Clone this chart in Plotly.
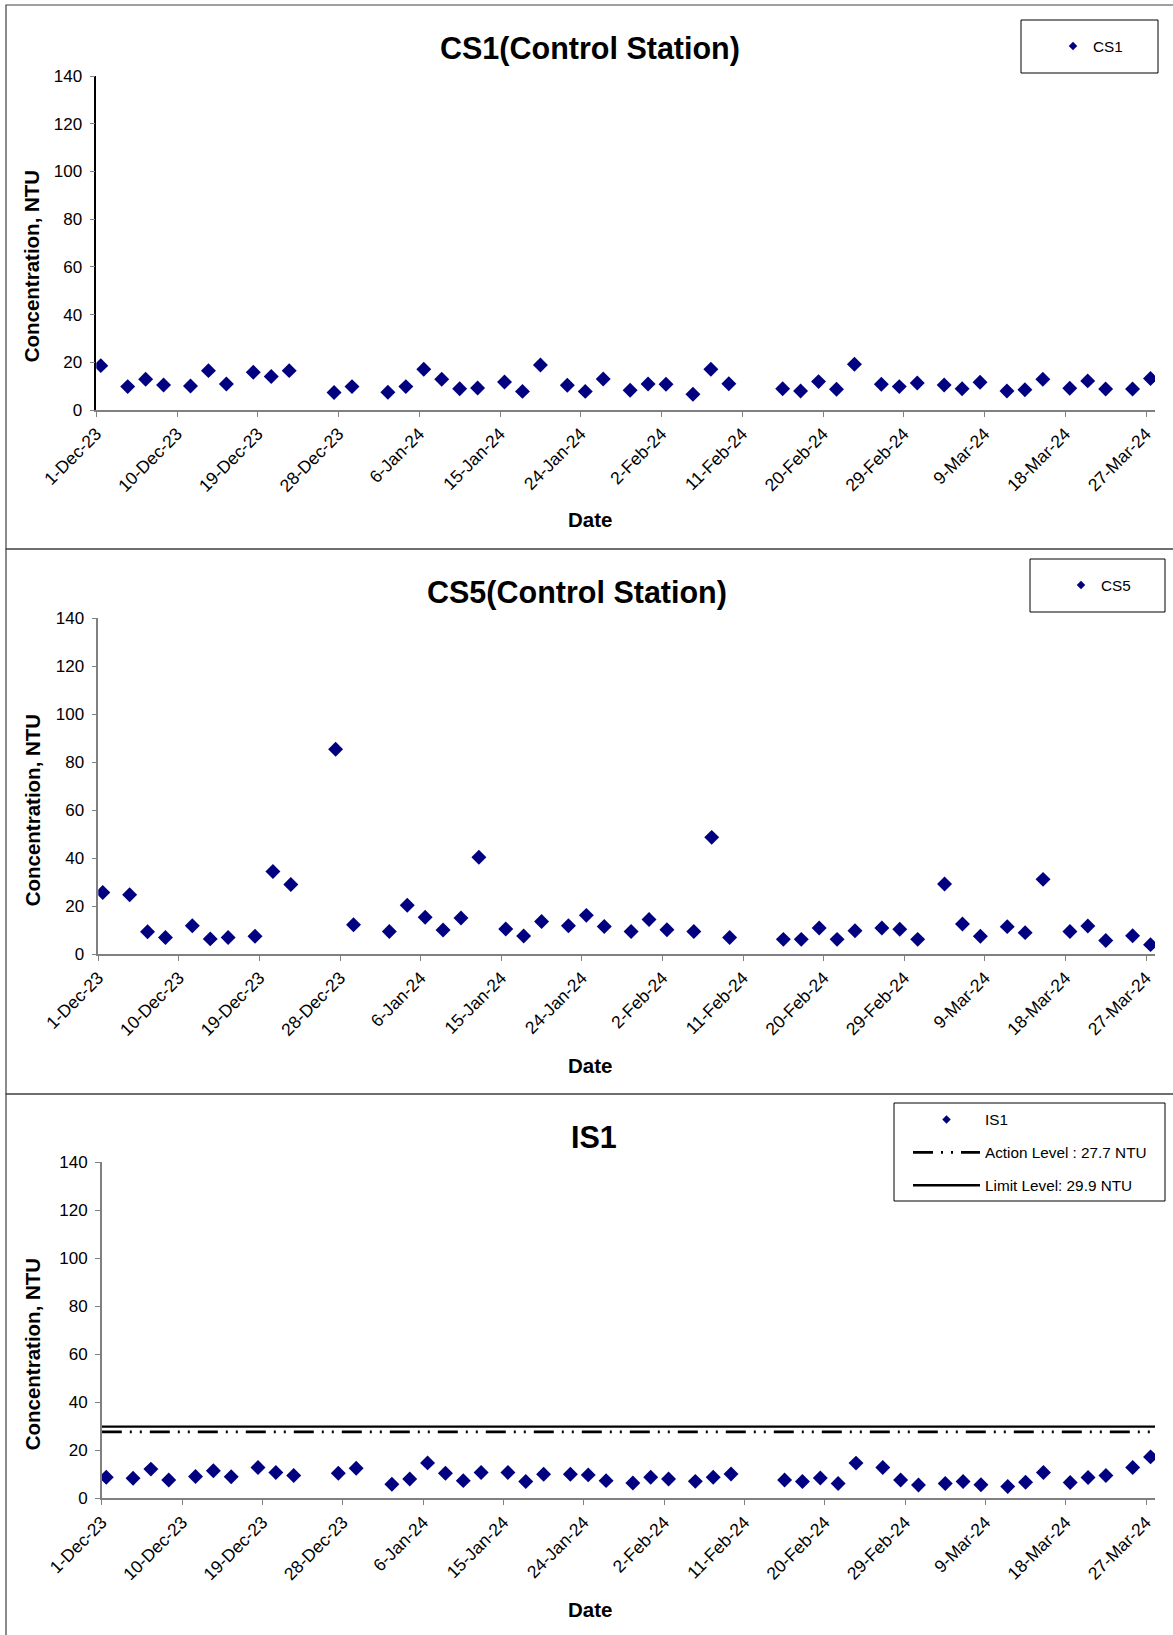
import pandas as pd
import plotly.graph_objects as go

# ---------------- data ----------------
sample_dates = [
    "2023-12-01", "2023-12-04", "2023-12-06", "2023-12-08", "2023-12-11", "2023-12-13",
    "2023-12-15", "2023-12-18", "2023-12-20", "2023-12-22", "2023-12-27", "2023-12-29",
    "2024-01-02", "2024-01-04", "2024-01-06", "2024-01-08", "2024-01-10", "2024-01-12",
    "2024-01-15", "2024-01-17", "2024-01-19", "2024-01-22", "2024-01-24", "2024-01-26",
    "2024-01-29", "2024-01-31", "2024-02-02", "2024-02-05", "2024-02-07", "2024-02-09",
    "2024-02-15", "2024-02-17", "2024-02-19", "2024-02-21", "2024-02-23", "2024-02-26",
    "2024-02-28", "2024-03-01", "2024-03-04", "2024-03-06", "2024-03-08", "2024-03-11",
    "2024-03-13", "2024-03-15", "2024-03-18", "2024-03-20", "2024-03-22", "2024-03-25",
    "2024-03-27",
]
cs1_ntu = [18.6, 9.8, 12.9, 10.5, 10.1, 16.5, 10.9, 15.8, 14.0, 16.5, 7.3, 9.8,
           7.4, 9.8, 17.1, 12.9, 8.9, 9.2, 11.7, 7.8, 18.9, 10.4, 7.8, 13.0,
           8.3, 10.9, 10.8, 6.6, 17.1, 11.0, 8.9, 8.0, 11.9, 8.7, 19.2, 10.8,
           9.8, 11.3, 10.5, 8.9, 11.6, 8.0, 8.5, 12.9, 9.1, 12.2, 8.8, 8.8, 13.2]
cs5_ntu = [25.6, 24.7, 9.3, 6.9, 11.8, 6.3, 6.9, 7.4, 34.4, 29.0, 85.3, 12.2,
           9.4, 20.3, 15.3, 10.0, 15.0, 40.3, 10.4, 7.5, 13.5, 11.8, 16.1, 11.5,
           9.4, 14.4, 10.1, 9.4, 48.6, 6.9, 6.1, 6.1, 10.8, 6.1, 9.7, 10.8,
           10.3, 6.1, 29.2, 12.5, 7.4, 11.4, 8.9, 31.1, 9.4, 11.7, 5.6, 7.6, 3.9]
is1_ntu = [8.8, 8.4, 12.2, 7.7, 9.1, 11.5, 9.0, 12.9, 10.8, 9.5, 10.5, 12.6,
           5.9, 8.1, 14.8, 10.5, 7.4, 10.8, 10.8, 7.0, 10.1, 10.1, 9.8, 7.4,
           6.4, 8.8, 8.1, 7.1, 8.8, 10.2, 7.7, 7.0, 8.5, 6.2, 14.7, 12.9,
           7.7, 5.6, 6.2, 7.0, 5.7, 5.0, 6.7, 10.8, 6.6, 8.7, 9.5, 12.9, 17.3]
action_level = 27.7
limit_level = 29.9
panel_titles = ["CS1(Control Station)", "CS5(Control Station)", "IS1"]
series_names = ["CS1", "CS5", "IS1"]
action_name = "Action Level : 27.7 NTU"
limit_name = "Limit Level: 29.9 NTU"
x_axis_title = "Date"
y_axis_title = "Concentration, NTU"
x_range = ["2023-12-01", "2024-03-28"]
tick_start = "2023-12-01"
tick_step_days = 9
y_range = [0, 140]
y_step = 20

# ---------------- styling ----------------
W, H = 1173, 1635
FONT = "Liberation Sans, Arial, sans-serif"
NAVY = "#000080"

def px_x(p):
    return p / W

def px_y(p):
    return 1 - p / H

# points sit in the middle of their day (Excel date-axis style)
x_pts = pd.to_datetime(sample_dates) + pd.Timedelta(hours=12)

fig = go.Figure()

panels = [
    dict(vals=cs1_ntu, x0=96.3, ytop=76, ybot=410, yline="black"),
    dict(vals=cs5_ntu, x0=98.3, ytop=618, ybot=954, yline="#808080"),
    dict(vals=is1_ntu, x0=101.8, ytop=1162.4, ybot=1498.4, yline="#808080"),
]
x_end_px = 1155

for i, p in enumerate(panels):
    n = "" if i == 0 else str(i + 1)
    fig.add_trace(go.Scatter(
        x=x_pts, y=p["vals"], mode="markers", name=series_names[i],
        marker=dict(symbol="diamond", size=11.5, color=NAVY),
        xaxis="x" + n, yaxis="y" + n, showlegend=False, hoverinfo="x+y",
    ))
    # legend-only entry (smaller symbol, as in the original legend)
    fig.add_trace(go.Scatter(
        x=[None], y=[None], mode="markers", name=series_names[i],
        marker=dict(symbol="diamond", size=6.5, color=NAVY),
        xaxis="x" + n, yaxis="y" + n, legend="legend" + n, showlegend=True,
        legendgroup="g" + n + "a",
    ))
    fig.update_layout(**{
        "xaxis" + n: dict(
            domain=[px_x(p["x0"]), px_x(x_end_px)], anchor="y" + n,
            type="date", range=x_range, tick0=tick_start,
            dtick=tick_step_days * 86400000, tickformat="%-d-%b-%y",
            tickangle=-45, ticks="outside", ticklen=5, tickwidth=1,
            tickcolor="#808080", showline=True, linecolor="#808080",
            linewidth=1.5, showgrid=False, zeroline=False, automargin=False,
            tickfont=dict(family=FONT, size=17.5, color="black"),
        ),
        "yaxis" + n: dict(
            domain=[px_y(p["ybot"]), px_y(p["ytop"])], anchor="x" + n,
            range=y_range, dtick=y_step, tick0=0, ticks="outside",
            ticklen=5, tickwidth=1, tickcolor="#808080", showline=True,
            linecolor=p["yline"], linewidth=1.5, showgrid=False,
            zeroline=False, automargin=False,
            tickfont=dict(family=FONT, size=17, color="black"),
            ticklabelstandoff=4,
        ),
    })

# action / limit lines in IS1 panel
fig.add_trace(go.Scatter(
    x=x_range, y=[action_level, action_level], mode="lines", name=action_name,
    line=dict(color="black", width=2.6, dash="20px,8px,2px,8px,2px,8px"),
    xaxis="x3", yaxis="y3", legend="legend3", legendgroup="g3b", hoverinfo="name",
))
fig.add_trace(go.Scatter(
    x=x_range, y=[limit_level, limit_level], mode="lines", name=limit_name,
    line=dict(color="black", width=2.4),
    xaxis="x3", yaxis="y3", legend="legend3", legendgroup="g3c", hoverinfo="name",
))

leg_font = dict(family=FONT, size=15.3, color="black")
fig.update_layout(
    legend=dict(x=px_x(1053), y=px_y(46), xanchor="left", yanchor="middle",
                bgcolor="rgba(0,0,0,0)", borderwidth=0, font=leg_font),
    legend2=dict(x=px_x(1061), y=px_y(585), xanchor="left", yanchor="middle",
                 bgcolor="rgba(0,0,0,0)", borderwidth=0, font=leg_font),
    legend3=dict(x=px_x(908), y=px_y(1103), xanchor="left", yanchor="top",
                 bgcolor="rgba(0,0,0,0)", borderwidth=0, font=leg_font,
                 itemwidth=67, traceorder="grouped", tracegroupgap=10),
)

# panel titles
title_pos = [(590, 49), (577, 593), (594, 1137)]
for t, (tx, ty) in zip(panel_titles, title_pos):
    fig.add_annotation(text="<b>" + t + "</b>", xref="paper", yref="paper",
                       x=px_x(tx), y=px_y(ty), xanchor="center", yanchor="middle",
                       showarrow=False, font=dict(family=FONT, size=30.5, color="black"))

# axis titles (placed like the original, centred on the chart area)
for xt_y in (520, 1065, 1609):
    fig.add_annotation(text="<b>" + x_axis_title + "</b>", xref="paper", yref="paper",
                       x=px_x(590), y=px_y(xt_y), xanchor="center", yanchor="middle",
                       showarrow=False, font=dict(family=FONT, size=20.5, color="black"))
for yt_y in (266, 810, 1354):
    fig.add_annotation(text="<b>" + y_axis_title + "</b>", xref="paper", yref="paper",
                       x=px_x(32.3), y=px_y(yt_y), xanchor="center", yanchor="middle",
                       textangle=-90, showarrow=False,
                       font=dict(family=FONT, size=20.5, color="black"))

# chart-area borders and legend boxes
shapes = []
for top, bot in [(5, 549), (549, 1094), (1094, 1640)]:
    shapes.append(dict(type="rect", xref="paper", yref="paper",
                       x0=px_x(6), x1=1.05, y0=px_y(bot), y1=px_y(top),
                       line=dict(color="#404040", width=1.2), layer="below"))
for (bx0, by0, bx1, by1) in [(1021, 20, 1158, 73), (1030, 559, 1165, 612),
                             (894, 1103, 1165, 1201)]:
    shapes.append(dict(type="rect", xref="paper", yref="paper",
                       x0=px_x(bx0), x1=px_x(bx1), y0=px_y(by1), y1=px_y(by0),
                       line=dict(color="black", width=1), layer="below"))

fig.update_layout(
    width=W, height=H, margin=dict(l=0, r=0, t=0, b=0),
    paper_bgcolor="white", plot_bgcolor="white",
    font=dict(family=FONT, color="black"),
    shapes=shapes,
)

fig.write_html("out.html", config={"displayModeBar": False},
               post_script="document.body.style.margin='0px';document.body.style.overflow='hidden';")
